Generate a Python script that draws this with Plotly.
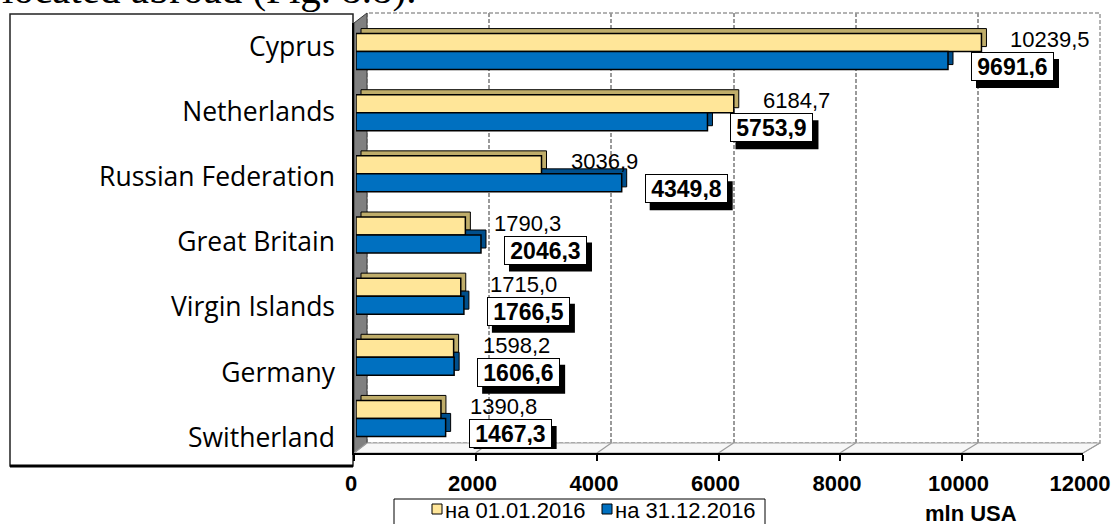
import plotly.graph_objects as go

# ---- data -------------------------------------------------------------
countries = ["Cyprus", "Netherlands", "Russian Federation", "Great Britain",
             "Virgin Islands", "Germany", "Switherland"]
start_2016 = [10239.5, 6184.7, 3036.9, 1790.3, 1715.0, 1598.2, 1390.8]
end_2016 = [9691.6, 5753.9, 4349.8, 2046.3, 1766.5, 1606.6, 1467.3]
series_names = ["на 01.01.2016", "на 31.12.2016"]
x_ticks = [0, 2000, 4000, 6000, 8000, 10000, 12000]
x_max = 12000
unit_label = "mln USA"
caption_tail = "located abroad (Fig. 8.8)."

# ---- geometry (pixels of the 1118x524 canvas) -------------------------
W, H = 1118, 524


def px(x):
    return x / W


def py(y):
    return 1 - y / H


FRONT = dict(x0=354, x1=1083, y0=23, y1=453)   # front plane: axis lines, tick labels
BARS = dict(x0=356, x1=1089, y0=21, y1=449)    # plane the bar faces sit in
BACK = dict(x0=367, x1=1100, y0=13, y1=443)    # back wall with dashed grid
BOX = dict(x0=10, x1=353, y0=14, y1=466)       # framed box with country names
LABELS = dict(x0=336, x1=353, y0=14, y1=470)

YELLOW, YELLOW_SIDE = "#FFE699", "#BFAD6A"
BLUE, BLUE_SIDE = "#0070C0", "#004F8C"
SANS = "Liberation Sans, Arial, sans-serif"

n = len(countries)
cat_px = (BARS["y1"] - BARS["y0"]) / n
bar_w = 18 / cat_px                                   # bar thickness in category units
depth_x = 5 * x_max / (BARS["x1"] - BARS["x0"])      # 5 px extrusion, data units
depth_y = 5 / cat_px

# framed value labels: text area, padding and drop-shadow offset (px)
LBL_W, LBL_H, LBL_PAD = 77, 23, 2
LBL_DX, LBL_DY = 23, -15
SHADOW_DX, SHADOW_DY = 5, -7
outer_w = LBL_W + 2 * LBL_PAD + 2
outer_h = LBL_H + 2 * LBL_PAD + 2


def fmt(v):
    return f"{v:.1f}".replace(".", ",")


fig = go.Figure()

# placeholders so the back-wall and front-axis subplots get drawn
fig.add_trace(go.Scatter(x=[0], y=[0], mode="none", xaxis="x", yaxis="y",
                         showlegend=False, hoverinfo="skip"))

# extrusions (drawn first, behind the front faces)
common = dict(orientation="h", xaxis="x2", yaxis="y2", showlegend=False,
              hoverinfo="skip", width=bar_w)
fig.add_trace(go.Bar(y=countries, x=start_2016, base=depth_x,
                     offset=-(bar_w + depth_y),
                     marker=dict(color=YELLOW_SIDE, line=dict(color="black", width=1)),
                     **common))
fig.add_trace(go.Bar(y=countries, x=end_2016, base=depth_x, offset=-depth_y,
                     marker=dict(color=BLUE_SIDE, line=dict(color="black", width=1)),
                     **common))
# front faces
fig.add_trace(go.Bar(y=countries, x=start_2016, offset=-bar_w, name=series_names[0],
                     marker=dict(color=YELLOW, line=dict(color="black", width=1.5)),
                     **common))
fig.add_trace(go.Bar(y=countries, x=end_2016, offset=0, name=series_names[1],
                     marker=dict(color=BLUE, line=dict(color="black", width=1.5)),
                     **common))

fig.add_trace(go.Scatter(x=[0], y=[0], mode="none", xaxis="x3", yaxis="y3",
                         showlegend=False, hoverinfo="skip"))
# carrier for the country-name axis
fig.add_trace(go.Scatter(x=[0.5] * n, y=countries, mode="none", xaxis="x4",
                         yaxis="y4", showlegend=False, hoverinfo="skip"))

shapes = []
# framed box behind the country names
shapes.append(dict(type="rect", xref="paper", yref="paper", layer="below",
                   x0=px(BOX["x0"]), x1=px(BOX["x1"]), y0=py(BOX["y1"]), y1=py(BOX["y0"]),
                   fillcolor="white", line=dict(color="#222", width=1.5)))
shapes.append(dict(type="line", xref="paper", yref="paper",
                   x0=px(BOX["x0"]), x1=px(BOX["x1"]), y0=py(BOX["y1"]), y1=py(BOX["y1"]),
                   line=dict(color="black", width=3)))
# back wall outline
shapes.append(dict(type="rect", xref="paper", yref="paper", layer="below",
                   x0=px(BACK["x0"]), x1=px(BACK["x1"]), y0=py(BACK["y1"]), y1=py(BACK["y0"]),
                   line=dict(color="#9A9A9A", width=1.5, dash="4px,2px")))
# grey side wall on the left
shapes.append(dict(type="path", xref="paper", yref="paper", layer="below",
                   path=(f"M{px(FRONT['x0'])},{py(FRONT['y1'])} L{px(FRONT['x0'])},{py(FRONT['y0'])} "
                         f"L{px(BACK['x0'])},{py(BACK['y0'])} L{px(BACK['x0'])},{py(BACK['y1'])} Z"),
                   fillcolor="#808080", line=dict(color="#3A3A3A", width=1)))
# floor
shapes.append(dict(type="path", xref="paper", yref="paper", layer="below",
                   path=(f"M{px(FRONT['x0'])},{py(FRONT['y1'])} L{px(BACK['x0'])},{py(BACK['y1'])} "
                         f"L{px(BACK['x1'])},{py(BACK['y1'])} L{px(FRONT['x1'])},{py(FRONT['y1'])} Z"),
                   fillcolor="#F7F7F7", line=dict(color="#A0A0A0", width=1)))
for t in x_ticks:
    fx = FRONT["x0"] + t / x_max * (FRONT["x1"] - FRONT["x0"])
    bx = BACK["x0"] + t / x_max * (BACK["x1"] - BACK["x0"])
    shapes.append(dict(type="line", xref="paper", yref="paper", layer="below",
                       x0=px(fx), y0=py(FRONT["y1"]), x1=px(bx), y1=py(BACK["y1"]),
                       line=dict(color="#9A9A9A", width=1.2)))

# drop shadows under the framed year-end labels
for c, b in zip(countries, end_2016):
    x0 = LBL_DX + SHADOW_DX
    y1 = LBL_DY + SHADOW_DY + outer_h / 2
    shapes.append(dict(type="rect", xref="x2", yref="y2",
                       xsizemode="pixel", ysizemode="pixel", xanchor=b, yanchor=c,
                       x0=x0, x1=x0 + outer_w, y0=y1 - outer_h, y1=y1,
                       fillcolor="black", line=dict(width=0)))

# legend frame and swatches
shapes.append(dict(type="rect", xref="paper", yref="paper",
                   x0=px(394), x1=px(765), y0=py(532), y1=py(499),
                   fillcolor="white", line=dict(color="black", width=1)))
for sx, col in ((432, YELLOW), (602, BLUE)):
    shapes.append(dict(type="rect", xref="paper", yref="paper",
                       x0=px(sx), x1=px(sx + 10), y0=py(514), y1=py(504),
                       fillcolor=col, line=dict(color="black", width=1)))

annotations = [
    dict(text=caption_tail, xref="paper", yref="paper", x=px(418), y=1,
         xanchor="right", yanchor="bottom", yshift=-14, showarrow=False,
         font=dict(family="Liberation Serif, Times New Roman, serif", size=41, color="black")),
    dict(text=unit_label, xref="paper", yref="paper", x=px(971), y=py(513),
         xanchor="center", yanchor="middle", showarrow=False,
         font=dict(family=SANS, size=22, color="black", weight="bold")),
]
for lx, name in ((443, series_names[0]), (613, series_names[1])):
    annotations.append(dict(text=name, xref="paper", yref="paper", x=px(lx), y=py(510),
                            xanchor="left", yanchor="middle", showarrow=False,
                            font=dict(family=SANS, size=22, color="black")))

for c, a, b in zip(countries, start_2016, end_2016):
    annotations.append(dict(text=fmt(a), xref="x2", yref="y2", x=a, y=c,
                            xanchor="left", yanchor="middle", xshift=27, yshift=12,
                            showarrow=False,
                            font=dict(family=SANS, size=22, color="black")))
    annotations.append(dict(text=fmt(b), xref="x2", yref="y2", x=b, y=c,
                            xanchor="left", yanchor="middle",
                            xshift=LBL_DX, yshift=LBL_DY,
                            width=LBL_W, height=LBL_H, align="center", valign="middle",
                            showarrow=False, bgcolor="white", bordercolor="black",
                            borderwidth=1, borderpad=LBL_PAD,
                            font=dict(family=SANS, size=23, color="black", weight="bold")))

no_margin = dict(automargin=False)
fig.update_layout(
    width=W, height=H,
    margin=dict(l=0, r=0, t=0, b=0, autoexpand=False),
    paper_bgcolor="white",
    plot_bgcolor="rgba(0,0,0,0)",
    barmode="overlay",
    showlegend=False,
    shapes=shapes,
    annotations=annotations,
    # back wall grid
    xaxis=dict(domain=[px(BACK["x0"]), px(BACK["x1"])], range=[0, x_max],
               tickvals=x_ticks, showticklabels=False, ticks="",
               showgrid=True, gridcolor="#9A9A9A", gridwidth=1.5, griddash="4px,2px",
               zeroline=False, showline=False, anchor="y", **no_margin),
    yaxis=dict(domain=[py(BACK["y1"]), py(BACK["y0"])], range=[0, 1],
               showgrid=False, zeroline=False, showticklabels=False, ticks="",
               anchor="x", **no_margin),
    # bars
    xaxis2=dict(domain=[px(BARS["x0"]), px(BARS["x1"])], range=[0, x_max],
                visible=False, anchor="y2", **no_margin),
    yaxis2=dict(domain=[py(BARS["y1"]), py(BARS["y0"])], type="category",
                categoryorder="array", categoryarray=countries,
                range=[n - 0.5, -0.5], visible=False, anchor="x2", **no_margin),
    # front axis with value ticks
    xaxis3=dict(domain=[px(FRONT["x0"]), px(FRONT["x1"])], range=[0, x_max],
                tickvals=x_ticks, ticktext=[str(t) for t in x_ticks],
                ticks="outside", ticklen=6, tickwidth=2, tickcolor="black",
                showline=True, linewidth=2, linecolor="black",
                showgrid=False, zeroline=False, anchor="y3",
                ticklabelstandoff=4, ticklabelshift=-3,
                tickfont=dict(family=SANS, size=22, color="black", weight="bold"),
                **no_margin),
    yaxis3=dict(domain=[py(FRONT["y1"]), py(FRONT["y0"])], range=[0, 1],
                showline=True, linewidth=2, linecolor="black",
                showgrid=False, zeroline=False, showticklabels=False, ticks="",
                anchor="x3", **no_margin),
    # country names
    xaxis4=dict(domain=[px(LABELS["x0"]), px(LABELS["x1"])], range=[0, 1],
                visible=False, anchor="y4", **no_margin),
    yaxis4=dict(domain=[py(LABELS["y1"]), py(LABELS["y0"])], type="category",
                categoryorder="array", categoryarray=countries,
                range=[n - 0.5, -0.5], showgrid=False, zeroline=False,
                showline=False, ticks="", anchor="x4",
                tickfont=dict(family="Open Sans, sans-serif", size=26.5, color="black"),
                **no_margin),
)

fig.write_html("out.html")
